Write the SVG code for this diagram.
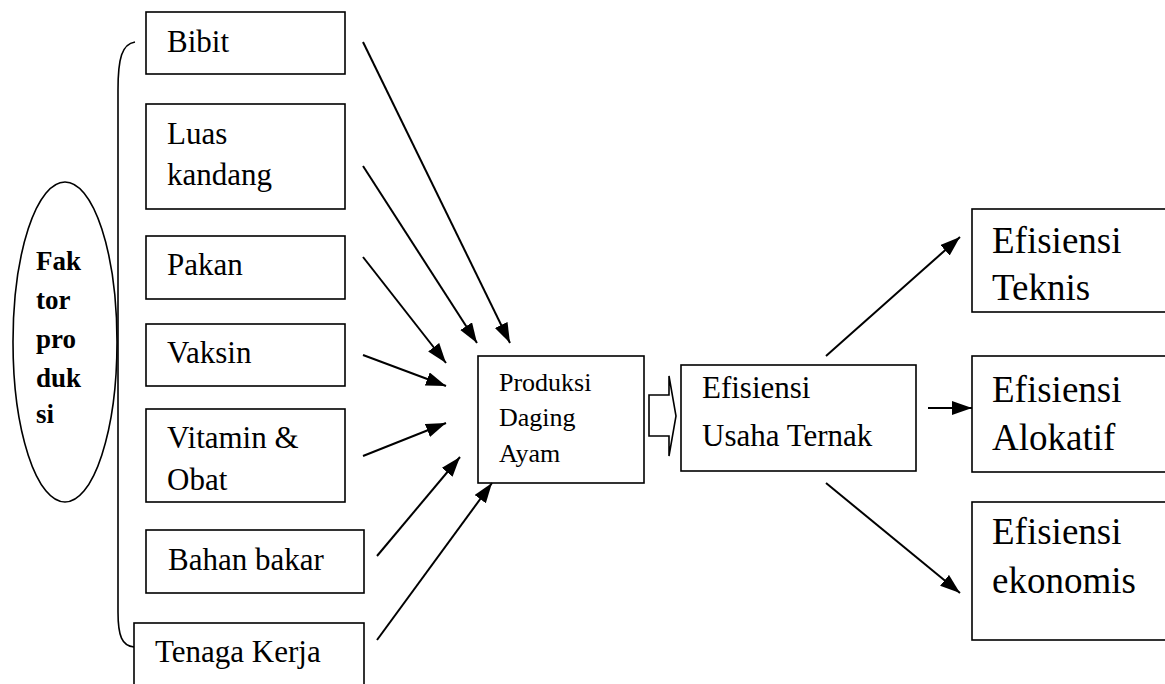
<svg xmlns="http://www.w3.org/2000/svg" width="1165" height="684" viewBox="0 0 1165 684">
<style>
.box{fill:#fff;stroke:#000;stroke-width:1.6}
text{font-family:'Liberation Serif','Times New Roman',Tinos,'DejaVu Serif',serif;fill:#000}
.t{font-size:31px}
.tp{font-size:26px}
.tr{font-size:37px}
.tb{font-size:27px;font-weight:bold}
.arr{fill:none;stroke:#000;stroke-width:2;marker-end:url(#ah)}
</style>
<defs>
<marker id="ah" markerUnits="userSpaceOnUse" markerWidth="22" markerHeight="16" refX="20" refY="7" orient="auto">
<path d="M0,0 L20,7 L0,14 z" fill="#000"/>
</marker>
<clipPath id="clipTek"><rect x="972" y="209" width="200" height="92"/></clipPath>
</defs>
<rect width="1165" height="684" fill="#fff"/>

<g id="faktor">
<ellipse cx="65" cy="342" rx="52" ry="160" fill="none" stroke="#000" stroke-width="1.6"/>
<text class="tb" x="36" y="270">Fak</text>
<text class="tb" x="36" y="309">tor</text>
<text class="tb" x="36" y="348">pro</text>
<text class="tb" x="36" y="387">duk</text>
<text class="tb" x="36" y="423">si</text>
</g>

<g id="bracket">
<path d="M135,42 C122,44 118,58 118,90 L118,612 C118,636 122,646 134,647" fill="none" stroke="#000" stroke-width="1.6"/>
</g>

<g id="bibit"><rect class="box" x="146" y="12" width="199" height="62"/><text class="t" x="167" y="52">Bibit</text></g>
<g id="luas"><rect class="box" x="146" y="104" width="199" height="105"/><text class="t" x="167" y="144">Luas</text><text class="t" x="167" y="185">kandang</text></g>
<g id="pakan"><rect class="box" x="146" y="236" width="199" height="63"/><text class="t" x="167" y="275">Pakan</text></g>
<g id="vaksin"><rect class="box" x="146" y="324" width="199" height="62"/><text class="t" x="167" y="363">Vaksin</text></g>
<g id="vitamin"><rect class="box" x="146" y="409" width="199" height="93"/><text class="t" x="167" y="448">Vitamin &amp;</text><text class="t" x="167" y="490">Obat</text></g>
<g id="bahan"><rect class="box" x="146" y="530" width="218" height="63"/><text class="t" x="168" y="570">Bahan bakar</text></g>
<g id="tenaga"><rect class="box" x="134" y="623" width="230" height="80"/><text class="t" x="155" y="662">Tenaga Kerja</text></g>

<g id="produksi"><rect class="box" x="478" y="356" width="166" height="127"/>
<text class="tp" x="499" y="391">Produksi</text><text class="tp" x="499" y="426">Daging</text><text class="tp" x="499" y="462">Ayam</text></g>

<g id="usaha"><rect class="box" x="681" y="365" width="235" height="106"/>
<text class="t" x="702" y="398">Efisiensi</text><text class="t" x="702" y="446">Usaha Ternak</text></g>

<g id="teknis"><rect class="box" x="972" y="209" width="200" height="103"/>
<g clip-path="url(#clipTek)"><text class="tr" x="992" y="253">Efisiensi</text><text class="tr" x="992" y="300">Teknis</text></g></g>
<g id="alokatif"><rect class="box" x="972" y="356" width="200" height="116"/>
<text class="tr" x="992" y="402">Efisiensi</text><text class="tr" x="992" y="450">Alokatif</text></g>
<g id="ekonomis"><rect class="box" x="972" y="502" width="200" height="138"/>
<text class="tr" x="992" y="544">Efisiensi</text><text class="tr" x="992" y="593">ekonomis</text></g>

<g id="connectors">
<line class="arr" x1="363" y1="42" x2="510" y2="343"/>
<line class="arr" x1="363" y1="166" x2="477" y2="343"/>
<line class="arr" x1="363" y1="257" x2="446" y2="363"/>
<line class="arr" x1="363" y1="355" x2="446" y2="386"/>
<line class="arr" x1="363" y1="456" x2="446" y2="423"/>
<line class="arr" x1="377" y1="556" x2="460" y2="457"/>
<line class="arr" x1="377" y1="640" x2="492" y2="483"/>
<path d="M649,395 L669,395 L669,376 L676,416 L669,456 L669,436 L649,436 Z" fill="#fff" stroke="#000" stroke-width="1.6"/>
<line class="arr" x1="826" y1="356" x2="960" y2="237"/>
<line class="arr" x1="928" y1="408" x2="972" y2="408"/>
<line class="arr" x1="826" y1="483" x2="960" y2="593"/>
</g>
</svg>
